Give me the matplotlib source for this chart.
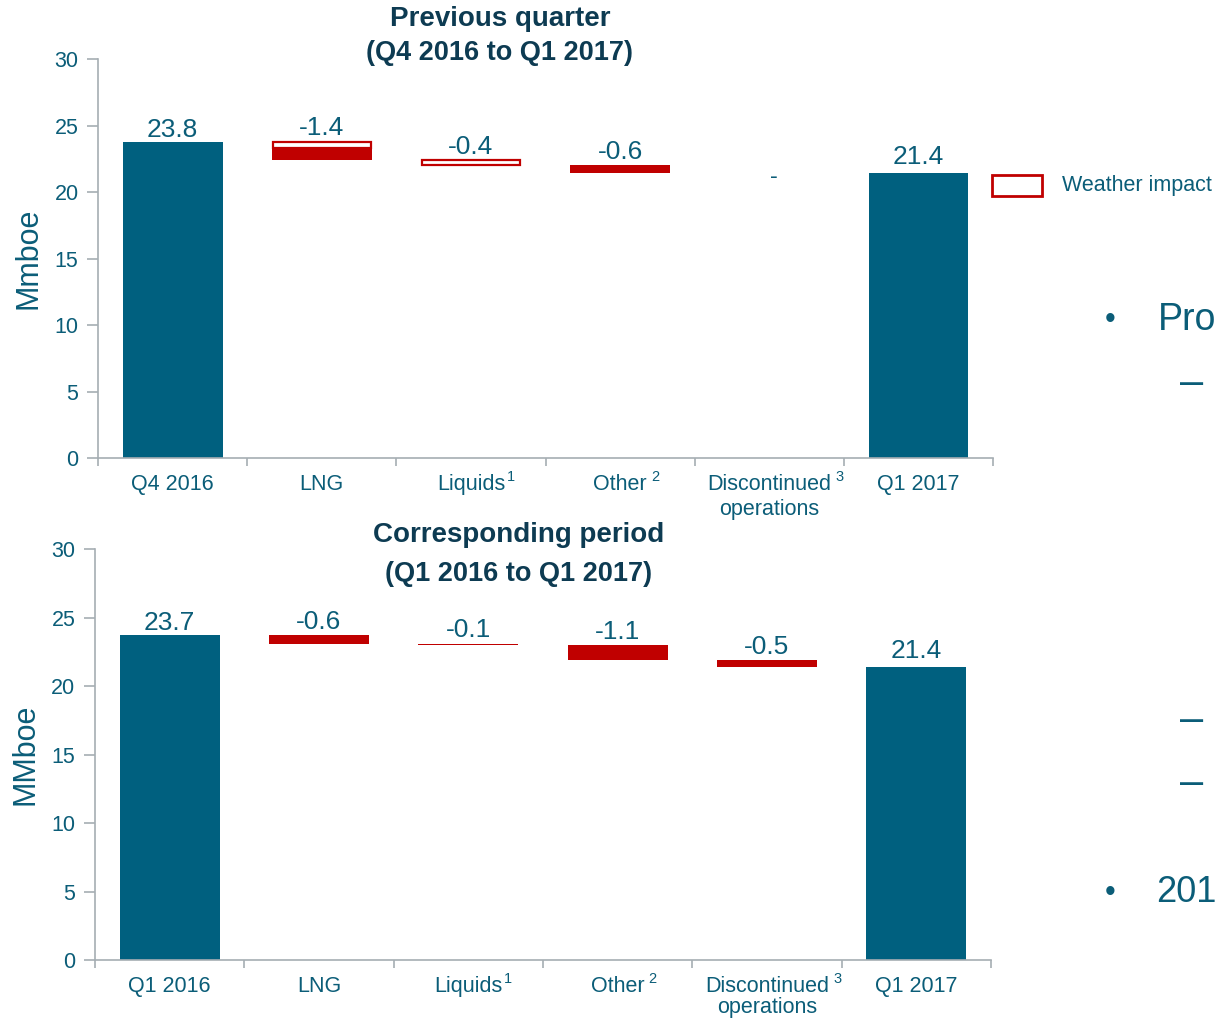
import matplotlib
matplotlib.use('Agg')
import matplotlib.pyplot as plt
from matplotlib.patches import Rectangle
import numpy as np

plt.rcParams['font.family'] = ['Liberation Sans', 'DejaVu Sans']

# data
top_labels = ['Q4 2016', 'LNG', 'Liquids', 'Other', 'Discontinued\noperations', 'Q1 2017']
top_sups = ['', '', '1', ' 2', ' 3', '']
top_start = 23.8
top_changes = [-1.4, -0.4, -0.6, 0.0]
top_weather = [0.5, 0.4, 0.0, 0.0]
top_change_text = ['-1.4', '-0.4', '-0.6', '-']
top_end = 21.4

bot_labels = ['Q1 2016', 'LNG', 'Liquids', 'Other', 'Discontinued\noperations', 'Q1 2017']
bot_sups = ['', '', '1', ' 2', ' 3', '']
bot_start = 23.7
bot_changes = [-0.6, -0.1, -1.1, -0.5]
bot_weather = [0.0, 0.0, 0.0, 0.0]
bot_change_text = ['-0.6', '-0.1', '-1.1', '-0.5']
bot_end = 21.4

TEAL = '#00607F'
RED = '#C00000'
TXT = '#0B5D78'
NAVY = '#0D3B52'
GRAY = '#A6AEB3'

fig = plt.figure(figsize=(12.17, 10.19), dpi=100)


def cat_label(ax, xi, label, sup, lsp):
    lines = label.split('\n')
    first = None
    for k, ln in enumerate(lines):
        t = ax.annotate(ln, xy=(xi, 0), xycoords=('data', 'axes fraction'),
                        xytext=(0, -11.5 - lsp * k), textcoords='offset points',
                        ha='center', va='top', fontsize=15.5, color=TXT)
        if first is None:
            first = t
    if sup.strip():
        gap = 3 if sup.startswith(' ') else 1
        ax.annotate(sup.strip(), xy=(1, 1), xycoords=first, xytext=(gap, 3),
                    textcoords='offset points', ha='left', va='top',
                    fontsize=10.5, color=TXT)


def waterfall(ax, labels, sups, start, changes, weather, change_text, end, ylab, lsp):
    n = len(labels)
    x = np.arange(n)
    w = 0.67
    ax.bar(x[0], start, width=w, color=TEAL)
    ax.bar(x[-1], end, width=w, color=TEAL)
    ax.annotate('%.1f' % start, xy=(x[0], start), xytext=(0, 0), textcoords='offset points',
                ha='center', va='bottom', fontsize=19, color=TXT)
    ax.annotate('%.1f' % end, xy=(x[-1], end), xytext=(0, 3), textcoords='offset points',
                ha='center', va='bottom', fontsize=19, color=TXT)
    level = start
    for i, (c, wt, t) in enumerate(zip(changes, weather, change_text)):
        xi = x[i + 1]
        if c != 0:
            filled = -c - wt
            if filled > 0:
                ax.bar(xi, -filled, bottom=level - wt, width=w, color=RED)
            if wt > 0:
                ax.bar(xi, -wt, bottom=level, width=w - 0.01, facecolor='white',
                       edgecolor=RED, linewidth=1.6)
            ax.text(xi, level + 0.1, t, ha='center', va='bottom', fontsize=19, color=TXT)
        else:
            ax.text(xi + 0.03, level - 0.3, t, ha='center', va='center', fontsize=17, color=TXT)
        level += c
    ax.set_xlim(-0.5, n - 0.5)
    ax.set_ylim(0, 30)
    ax.set_yticks([0, 5, 10, 15, 20, 25, 30])
    ax.set_xticks([])
    ax.set_xticks(np.arange(n + 1) - 0.5, minor=True)
    ax.tick_params(axis='x', which='minor', length=6, color=GRAY, width=1.2)
    ax.tick_params(axis='y', labelsize=15.5, labelcolor=TXT, color=GRAY, length=8, width=1.2, pad=6)
    for i in range(n):
        cat_label(ax, x[i], labels[i], sups[i], lsp)
    for s in ['top', 'right']:
        ax.spines[s].set_visible(False)
    for s in ['left', 'bottom']:
        ax.spines[s].set_color(GRAY)
        ax.spines[s].set_linewidth(1.2)
    ax.set_ylabel(ylab, fontsize=22, color=TXT, labelpad=8)


ax1 = fig.add_axes([0.0805, 0.5505, 0.7355, 0.3915])
waterfall(ax1, top_labels, top_sups, top_start, top_changes, top_weather,
          top_change_text, top_end, 'Mmboe', 18)
ax2 = fig.add_axes([0.078, 0.0579, 0.7363, 0.4033])
waterfall(ax2, bot_labels, bot_sups, bot_start, bot_changes, bot_weather,
          bot_change_text, bot_end, 'MMboe', 15.5)

fig.text(500 / 1217, 1 - 19 / 1019, 'Previous quarter', ha='center', va='center',
         fontsize=20, fontweight='bold', color=NAVY)
fig.text(500 / 1217, 1 - 53 / 1019, '(Q4 2016 to Q1 2017)', ha='center', va='center',
         fontsize=19.5, fontweight='bold', color=NAVY)
fig.text(519 / 1217, 1 - 535 / 1019, 'Corresponding period', ha='center', va='center',
         fontsize=20, fontweight='bold', color=NAVY)
fig.text(519 / 1217, 1 - 574 / 1019, '(Q1 2016 to Q1 2017)', ha='center', va='center',
         fontsize=19.5, fontweight='bold', color=NAVY)

# legend
fig.patches.append(Rectangle((992 / 1217, 1 - 196 / 1019), 50 / 1217, 21 / 1019,
                             transform=fig.transFigure, facecolor='white',
                             edgecolor=RED, linewidth=2))
fig.text(1062 / 1217, 1 - 186 / 1019, 'Weather impact', ha='left', va='center',
         fontsize=15.5, color=TXT)

# slide text on the right edge
fig.text(1110 / 1217, 1 - 320 / 1019, '•', ha='center', va='center', fontsize=22, color=TXT)
fig.text(1158 / 1217, 1 - 320 / 1019, 'Pro', ha='left', va='center', fontsize=27, color=TXT)
fig.text(1110 / 1217, 1 - 893 / 1019, '•', ha='center', va='center', fontsize=22, color=TXT)
fig.text(1156 / 1217, 1 - 893 / 1019, '201', ha='left', va='center', fontsize=26, color=TXT)
for yy in [383, 720, 783]:
    fig.text(1180 / 1217, 1 - yy / 1019, '–', ha='left', va='center', fontsize=30, color=TXT)

fig.savefig('out.png', dpi=100)
